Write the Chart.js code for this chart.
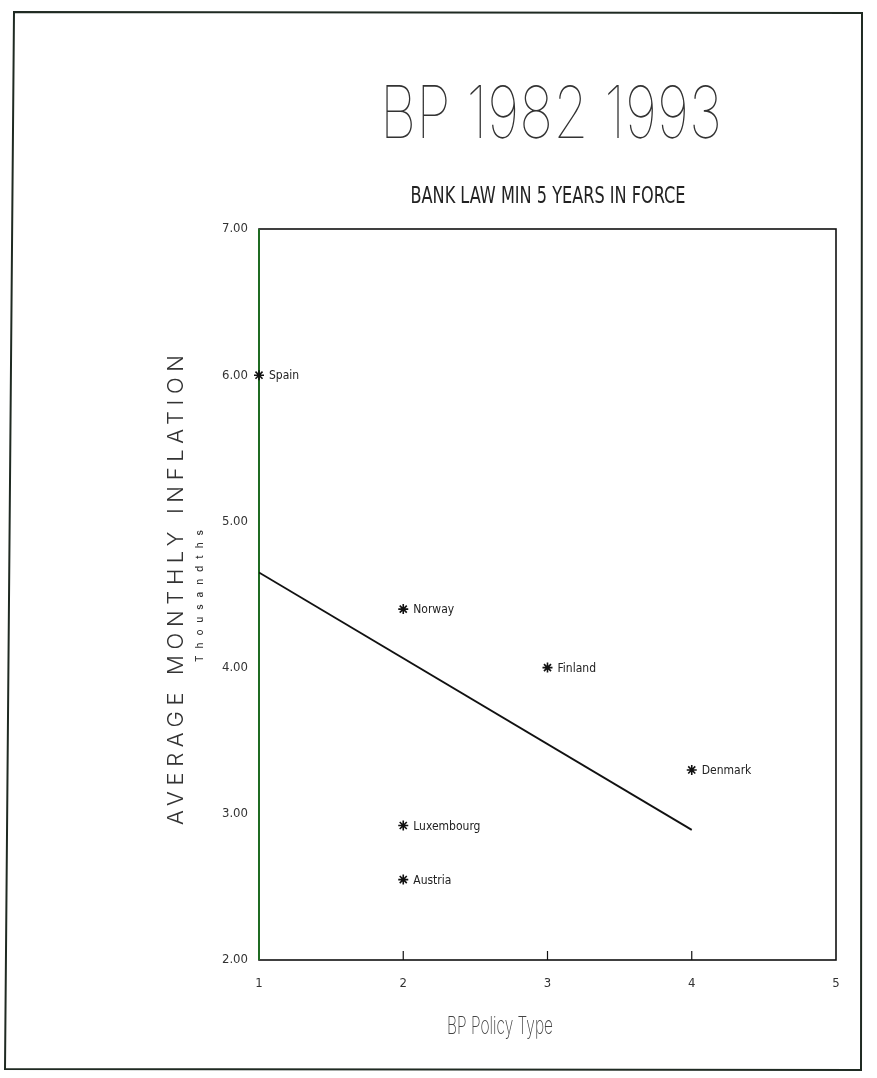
<!DOCTYPE html>
<html>
<head>
<meta charset="utf-8">
<title>BP 1982 1993</title>
<script src="https://cdn.jsdelivr.net/npm/chart.js@4.4.1/dist/chart.umd.min.js"></script>
<style>
  html, body { margin: 0; padding: 0; background: #fff; }
  canvas { display: block; }
</style>
</head>
<body>
<canvas id="c" width="877" height="1078"></canvas>
<script>
// Countries and their values
const countries = ['Spain', 'Norway', 'Finland', 'Denmark', 'Luxembourg', 'Austria'];
const policyType = [1, 2, 3, 4, 2, 2];
const inflation = [6.00, 4.40, 4.00, 3.30, 2.92, 2.55];

// Fitted trend line end points
const trendX = [1, 4];
const trendY = [4.65, 2.89];

// Axis ticks
const xTicks = [1, 2, 3, 4, 5];
const yTicks = [2, 3, 4, 5, 6, 7];

const TEXT = '#222';
const NARROW = "'DejaVu Sans Condensed', 'Liberation Sans Narrow', 'DejaVu Sans', sans-serif";
const THIN = "Inter, Roboto, 'DejaVu Sans', sans-serif";

// Draw text squeezed or spread to a given width
function fitText(ctx, text, cx, baseY, width, font, opts = {}) {
  ctx.save();
  ctx.font = font;
  ctx.fillStyle = opts.color || TEXT;
  ctx.textBaseline = 'alphabetic';
  ctx.textAlign = 'left';
  ctx.translate(cx, baseY);
  if (opts.rotate) ctx.rotate(opts.rotate);
  if (opts.spread) {
    const n = text.length;
    const plain = ctx.measureText(text).width;
    ctx.letterSpacing = ((width - plain) / (n - 1)) + 'px';
    ctx.fillText(text, -width / 2, 0);
  } else {
    const w = ctx.measureText(text).width;
    ctx.scale(width / w, 1);
    ctx.fillText(text, -w / 2, 0);
  }
  ctx.restore();
}

const decor = {
  id: 'decor',
  beforeDraw(chart) {
    const ctx = chart.ctx;
    ctx.save();
    ctx.fillStyle = '#fff';
    ctx.fillRect(0, 0, chart.width, chart.height);
    // page frame
    ctx.strokeStyle = '#1f2a22';
    ctx.lineWidth = 2;
    ctx.beginPath();
    ctx.moveTo(14, 12);
    ctx.lineTo(862, 13);
    ctx.lineTo(861, 1070);
    ctx.lineTo(5, 1069);
    ctx.closePath();
    ctx.stroke();
    ctx.restore();

    // titles
    fitText(ctx, 'BP 1982 1993', 551, 138, 342, "100 72px " + THIN, { color: '#333' });
    fitText(ctx, 'BANK LAW MIN 5 YEARS IN FORCE', 548, 203, 275, "23px " + NARROW);
    fitText(ctx, 'BP Policy Type', 500, 1034, 106, "200 24px " + THIN, { color: '#444' });
    fitText(ctx, 'AVERAGE MONTHLY INFLATION', 183, 590, 470, "300 22px " + THIN,
      { rotate: -Math.PI / 2, spread: true, color: '#333' });
    fitText(ctx, 'Thousandths', 203, 596, 132, "500 10px " + THIN,
      { rotate: -Math.PI / 2, spread: true, color: '#333' });
  },
  beforeDatasetsDraw(chart) {
    const { ctx, chartArea: a, scales } = chart;
    ctx.save();
    // plot box
    ctx.strokeStyle = '#111';
    ctx.lineWidth = 1.6;
    ctx.strokeRect(a.left, a.top, a.right - a.left, a.bottom - a.top);
    // inward tick marks on the bottom axis
    ctx.lineWidth = 1.2;
    xTicks.slice(1, -1).forEach(v => {
      const px = scales.x.getPixelForValue(v);
      ctx.beginPath();
      ctx.moveTo(px, a.bottom);
      ctx.lineTo(px, a.bottom - 9);
      ctx.stroke();
    });
    // left axis in green
    ctx.strokeStyle = '#1f6b22';
    ctx.lineWidth = 2;
    ctx.beginPath();
    ctx.moveTo(a.left, a.top);
    ctx.lineTo(a.left, a.bottom);
    ctx.stroke();
    ctx.restore();
  },
  afterDatasetsDraw(chart) {
    const ctx = chart.ctx;
    const meta = chart.getDatasetMeta(0);
    ctx.save();
    ctx.font = "12px " + NARROW;
    ctx.fillStyle = TEXT;
    ctx.textAlign = 'left';
    ctx.textBaseline = 'middle';
    meta.data.forEach((pt, i) => {
      ctx.fillText(countries[i], pt.x + 10, pt.y + 1);
    });
    ctx.restore();
  }
};

new Chart(document.getElementById('c'), {
  type: 'scatter',
  data: {
    datasets: [
      {
        label: 'Countries',
        data: policyType.map((x, i) => ({ x, y: inflation[i] })),
        pointStyle: 'star',
        pointRadius: 5,
        borderColor: '#111',
        backgroundColor: '#111',
        borderWidth: 1.6,
        clip: false
      },
      {
        label: 'Trend',
        type: 'line',
        data: trendX.map((x, i) => ({ x, y: trendY[i] })),
        borderColor: '#111',
        borderWidth: 1.8,
        pointRadius: 0,
        fill: false
      }
    ]
  },
  options: {
    responsive: false,
    animation: false,
    devicePixelRatio: 1,
    layout: { padding: { top: 229, right: 41, left: 0, bottom: 0 } },
    plugins: { legend: { display: false }, tooltip: { enabled: false }, title: { display: false } },
    scales: {
      x: {
        type: 'linear',
        min: xTicks[0],
        max: xTicks[xTicks.length - 1],
        afterBuildTicks(s) { s.ticks = xTicks.map(v => ({ value: v })); },
        afterFit(s) { s.height = 118; },
        grid: { display: false, drawTicks: false },
        border: { display: false },
        ticks: {
          color: '#333',
          padding: 16,
          font: { family: NARROW, size: 13 },
          callback: v => String(v)
        }
      },
      y: {
        type: 'linear',
        min: yTicks[0],
        max: yTicks[yTicks.length - 1],
        afterBuildTicks(s) { s.ticks = yTicks.map(v => ({ value: v })); },
        afterFit(s) { s.width = 259; },
        grid: { display: false, drawTicks: false },
        border: { display: false },
        ticks: {
          color: '#333',
          padding: 11,
          font: { family: NARROW, size: 13 },
          callback: v => Number(v).toFixed(2)
        }
      }
    }
  },
  plugins: [decor]
});
</script>
</body>
</html>
